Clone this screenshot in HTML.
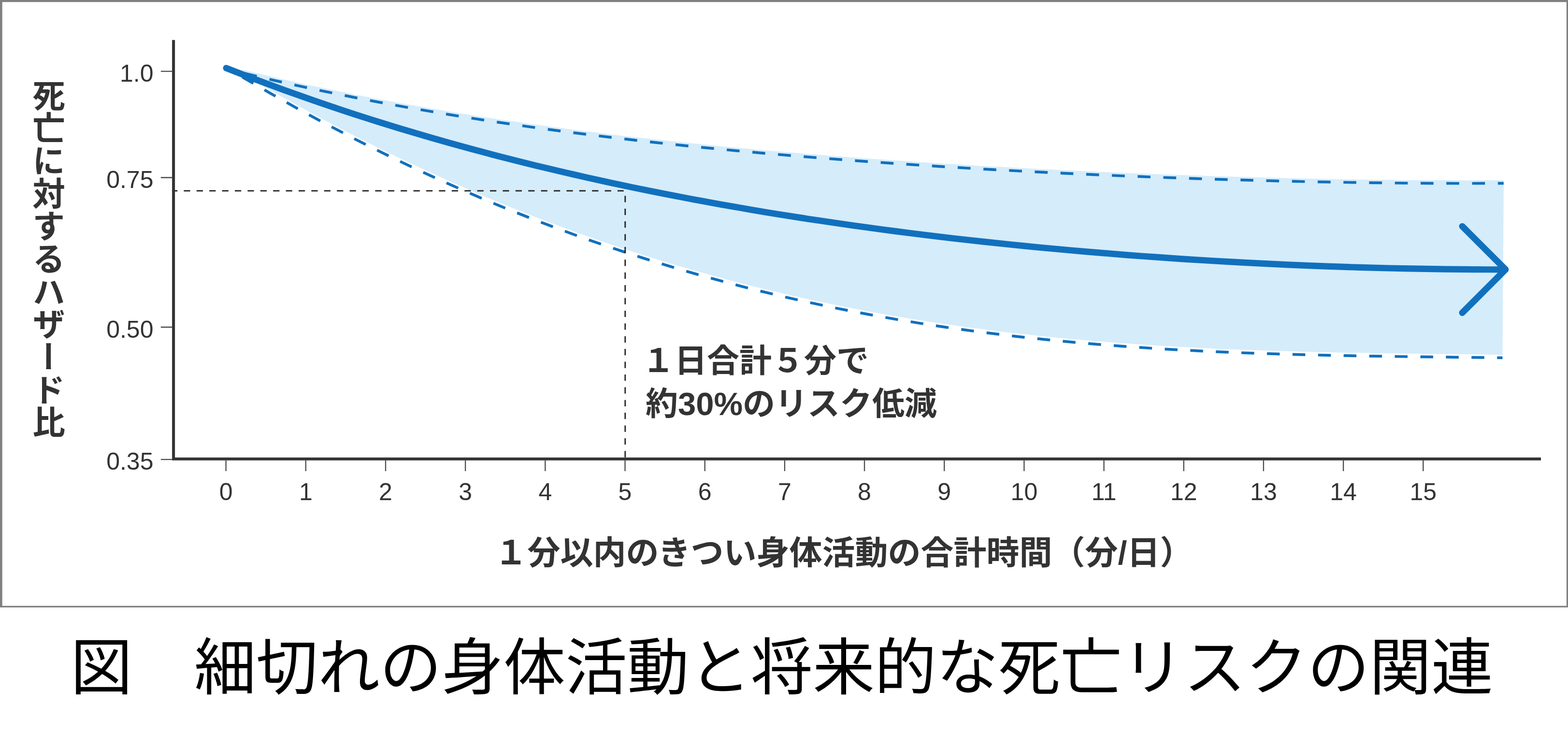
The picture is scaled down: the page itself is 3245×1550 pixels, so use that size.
<!DOCTYPE html>
<html lang="ja"><head><meta charset="utf-8"><title>図 細切れの身体活動と将来的な死亡リスクの関連</title>
<style>html,body{margin:0;padding:0;background:#fff;font-family:"Liberation Sans",sans-serif}body{width:3245px;height:1550px;overflow:hidden}svg{display:block}</style>
</head><body>
<svg width="3245" height="1550" viewBox="0 0 3245 1550">
<rect width="3245" height="1550" fill="#fff"/>
<path d="M491,143.5L505.5,145.2C515.6,147.6 545.9,154.9 566.1,159.6C586.3,164.3 606.5,168.8 626.7,173.2C646.9,177.6 667.1,181.9 687.3,186C707.5,190.2 727.7,194.2 747.9,198.2C768.2,202.1 788.4,206 808.6,209.7C828.8,213.4 849,217 869.2,220.5C889.4,224 909.6,227.5 929.8,230.8C950,234.1 970.2,237.3 990.4,240.5C1010.6,243.6 1030.8,246.7 1051,249.6C1071.2,252.6 1091.4,255.5 1111.6,258.3C1131.8,261.1 1152,263.8 1172.2,266.4C1192.4,269.1 1212.6,271.6 1232.8,274.1C1253,276.6 1273.2,279.1 1293.5,281.4C1313.7,283.8 1333.9,286.1 1354.1,288.3C1374.3,290.5 1394.5,292.7 1414.7,294.8C1434.9,296.9 1455.1,298.9 1475.3,300.9C1495.5,302.9 1515.7,304.8 1535.9,306.7C1556.1,308.6 1576.3,310.4 1596.5,312.2C1616.7,313.9 1636.9,315.7 1657.1,317.3C1677.3,319 1697.5,320.6 1717.7,322.2C1737.9,323.8 1758.1,325.3 1778.3,326.8C1798.5,328.3 1818.8,329.7 1839,331.1C1859.2,332.5 1879.4,333.9 1899.6,335.2C1919.8,336.5 1940,337.8 1960.2,339.1C1980.4,340.3 2000.6,341.5 2020.8,342.7C2041,343.9 2061.2,345 2081.4,346.1C2101.6,347.2 2121.8,348.2 2142,349.3C2162.2,350.3 2182.4,351.3 2202.6,352.3C2222.8,353.2 2243,354.2 2263.2,355.1C2283.4,356 2303.6,356.8 2323.8,357.7C2344.1,358.5 2364.3,359.3 2384.5,360.1C2404.7,360.8 2424.9,361.6 2445.1,362.3C2465.3,363 2485.5,363.6 2505.7,364.3C2525.9,364.9 2546.1,365.5 2566.3,366.1C2586.5,366.7 2606.7,367.2 2626.9,367.7C2647.1,368.3 2667.3,368.7 2687.5,369.2C2707.7,369.6 2727.9,370 2748.1,370.4C2768.3,370.8 2788.5,371.1 2808.7,371.4C2828.9,371.7 2849.1,372 2869.4,372.2C2889.6,372.5 2909.8,372.7 2930,372.8C2950.2,373 2970.4,373.1 2990.6,373.1C3010.8,373.2 3031,373.3 3051.2,373.2C3071.4,373.2 3101.9,373.1 3112,373.1L3109.5,734.1C3099.4,734 3069.1,733.6 3048.8,733.4C3028.6,733.1 3008.4,732.9 2988.2,732.6C2968,732.4 2947.8,732.2 2927.5,731.9C2907.3,731.6 2887.1,731.4 2866.9,731C2846.7,730.7 2826.5,730.4 2806.2,730.1C2786,729.7 2765.8,729.3 2745.6,728.9C2725.4,728.4 2705.1,727.9 2684.9,727.4C2664.7,726.9 2644.5,726.3 2624.3,725.6C2604.1,725 2583.8,724.2 2563.6,723.5C2543.4,722.7 2523.2,721.8 2503,720.9C2482.7,719.9 2462.5,718.9 2442.3,717.8C2422.1,716.7 2401.9,715.5 2381.7,714.2C2361.4,712.9 2341.2,711.6 2321,710.1C2300.8,708.6 2280.6,707 2260.4,705.3C2240.1,703.6 2219.9,701.8 2199.7,699.9C2179.5,698 2159.3,695.9 2139,693.8C2118.8,691.6 2098.6,689.3 2078.4,686.9C2058.2,684.5 2038,681.9 2017.7,679.2C1997.5,676.5 1977.3,673.7 1957.1,670.8C1936.9,667.8 1916.6,664.7 1896.4,661.4C1876.2,658.2 1856,654.8 1835.8,651.2C1815.6,647.7 1795.3,643.9 1775.1,640.1C1754.9,636.2 1734.7,632.2 1714.5,628C1694.3,623.8 1674,619.4 1653.8,614.9C1633.6,610.4 1613.4,605.7 1593.2,600.8C1572.9,596 1552.7,590.9 1532.5,585.7C1512.3,580.5 1492.1,575.1 1471.9,569.5C1451.6,564 1431.4,558.2 1411.2,552.3C1391,546.3 1370.8,540.2 1350.5,533.9C1330.3,527.6 1310.1,521.1 1289.9,514.4C1269.7,507.8 1249.5,500.9 1229.2,493.8C1209,486.8 1188.8,479.5 1168.6,472C1148.4,464.6 1128.2,456.9 1107.9,449.1C1087.7,441.2 1067.5,433.2 1047.3,425C1027.1,416.7 1006.8,408.3 986.6,399.6C966.4,391 946.2,382.1 926,373.1C905.8,364 885.5,354.8 865.3,345.3C845.1,335.9 824.9,326.2 804.7,316.4C784.4,306.5 764.2,296.4 744,286.2C723.8,275.9 703.6,265.4 683.4,254.7C663.1,244.1 642.9,233.2 622.7,222.1C602.5,211 582.3,199.7 562.1,188.2C541.8,176.7 511.5,158.9 501.4,153.1Z" fill="#d5ecfa"/>
<path d="M505.5,151.5C515.6,153.9 545.9,161.2 566.1,165.9C586.3,170.6 606.5,175.1 626.7,179.5C646.9,183.9 667.1,188.2 687.3,192.3C707.5,196.5 727.7,200.5 747.9,204.5C768.2,208.4 788.4,212.3 808.6,216C828.8,219.7 849,223.3 869.2,226.8C889.4,230.3 909.6,233.8 929.8,237.1C950,240.4 970.2,243.6 990.4,246.8C1010.6,249.9 1030.8,253 1051,255.9C1071.2,258.9 1091.4,261.8 1111.6,264.6C1131.8,267.4 1152,270.1 1172.2,272.7C1192.4,275.4 1212.6,277.9 1232.8,280.4C1253,282.9 1273.2,285.4 1293.5,287.7C1313.7,290.1 1333.9,292.4 1354.1,294.6C1374.3,296.8 1394.5,299 1414.7,301.1C1434.9,303.2 1455.1,305.2 1475.3,307.2C1495.5,309.2 1515.7,311.1 1535.9,313C1556.1,314.9 1576.3,316.7 1596.5,318.5C1616.7,320.2 1636.9,322 1657.1,323.6C1677.3,325.3 1697.5,326.9 1717.7,328.5C1737.9,330.1 1758.1,331.6 1778.3,333.1C1798.5,334.6 1818.8,336 1839,337.4C1859.2,338.8 1879.4,340.2 1899.6,341.5C1919.8,342.8 1940,344.1 1960.2,345.4C1980.4,346.6 2000.6,347.8 2020.8,349C2041,350.2 2061.2,351.3 2081.4,352.4C2101.6,353.5 2121.8,354.5 2142,355.6C2162.2,356.6 2182.4,357.6 2202.6,358.6C2222.8,359.5 2243,360.5 2263.2,361.4C2283.4,362.3 2303.6,363.1 2323.8,364C2344.1,364.8 2364.3,365.6 2384.5,366.4C2404.7,367.1 2424.9,367.9 2445.1,368.6C2465.3,369.3 2485.5,369.9 2505.7,370.6C2525.9,371.2 2546.1,371.8 2566.3,372.4C2586.5,373 2606.7,373.5 2626.9,374C2647.1,374.6 2667.3,375 2687.5,375.5C2707.7,375.9 2727.9,376.3 2748.1,376.7C2768.3,377.1 2788.5,377.4 2808.7,377.7C2828.9,378 2849.1,378.3 2869.4,378.5C2889.6,378.8 2909.8,379 2930,379.1C2950.2,379.3 2970.4,379.4 2990.6,379.4C3010.8,379.5 3031,379.6 3051.2,379.5C3071.4,379.5 3101.7,379.4 3111.8,379.4" fill="none" stroke="#1170bd" stroke-width="5.7" stroke-dasharray="26.63 26.63" stroke-dashoffset="0"/>
<path d="M501.4,159.4C511.5,165.2 541.8,183 562.1,194.5C582.3,206 602.5,217.3 622.7,228.4C642.9,239.5 663.1,250.4 683.4,261C703.6,271.7 723.8,282.2 744,292.5C764.2,302.7 784.4,312.8 804.7,322.7C824.9,332.5 845.1,342.2 865.3,351.6C885.5,361.1 905.8,370.3 926,379.4C946.2,388.4 966.4,397.3 986.6,405.9C1006.8,414.6 1027.1,423 1047.3,431.3C1067.5,439.5 1087.7,447.5 1107.9,455.4C1128.2,463.2 1148.4,470.9 1168.6,478.3C1188.8,485.8 1209,493.1 1229.2,500.1C1249.5,507.2 1269.7,514.1 1289.9,520.7C1310.1,527.4 1330.3,533.9 1350.5,540.2C1370.8,546.5 1391,552.6 1411.2,558.6C1431.4,564.5 1451.6,570.3 1471.9,575.8C1492.1,581.4 1512.3,586.8 1532.5,592C1552.7,597.2 1572.9,602.3 1593.2,607.1C1613.4,612 1633.6,616.7 1653.8,621.2C1674,625.7 1694.3,630.1 1714.5,634.3C1734.7,638.5 1754.9,642.5 1775.1,646.4C1795.3,650.2 1815.6,654 1835.8,657.5C1856,661.1 1876.2,664.5 1896.4,667.7C1916.6,671 1936.9,674.1 1957.1,677.1C1977.3,680 1997.5,682.8 2017.7,685.5C2038,688.2 2058.2,690.8 2078.4,693.2C2098.6,695.6 2118.8,697.9 2139,700.1C2159.3,702.2 2179.5,704.3 2199.7,706.2C2219.9,708.1 2240.1,709.9 2260.4,711.6C2280.6,713.3 2300.8,714.9 2321,716.4C2341.2,717.9 2361.4,719.2 2381.7,720.5C2401.9,721.8 2422.1,723 2442.3,724.1C2462.5,725.2 2482.7,726.2 2503,727.2C2523.2,728.1 2543.4,729 2563.6,729.8C2583.8,730.5 2604.1,731.3 2624.3,731.9C2644.5,732.6 2664.7,733.2 2684.9,733.7C2705.1,734.2 2725.4,734.7 2745.6,735.2C2765.8,735.6 2786,736 2806.2,736.4C2826.5,736.7 2846.7,737 2866.9,737.3C2887.1,737.7 2907.3,737.9 2927.5,738.2C2947.8,738.5 2968,738.7 2988.2,738.9C3008.4,739.2 3028.6,739.4 3048.8,739.7C3069.1,739.9 3099.4,740.3 3109.5,740.4" fill="none" stroke="#1170bd" stroke-width="5.7" stroke-dasharray="26.46 26.46" stroke-dashoffset="0"/>
<path d="M356,394.8H1290.7" fill="none" stroke="#222" stroke-width="2.8" stroke-dasharray="13.2 13.2" stroke-dashoffset="2"/>
<path d="M1293.8,405.3V949.7" fill="none" stroke="#222" stroke-width="2.8" stroke-dasharray="13.2 13.2"/>
<path d="M468.1,140.9C478.1,144.7 508.2,156.6 528.3,164.2C548.3,171.8 568.4,179.2 588.4,186.5C608.5,193.7 628.6,200.8 648.6,207.8C668.7,214.8 688.7,221.6 708.8,228.2C728.8,234.9 748.9,241.4 769,247.7C789,254.1 809.1,260.3 829.1,266.4C849.2,272.4 869.3,278.4 889.3,284.2C909.4,290 929.4,295.7 949.5,301.2C969.5,306.7 989.6,312.2 1009.7,317.4C1029.7,322.7 1049.8,327.9 1069.8,332.9C1089.9,338 1109.9,342.9 1130,347.7C1150.1,352.6 1170.1,357.2 1190.2,361.8C1210.2,366.4 1230.3,370.9 1250.3,375.3C1270.4,379.7 1290.5,383.9 1310.5,388.1C1330.6,392.3 1350.6,396.3 1370.7,400.3C1390.7,404.3 1410.8,408.1 1430.9,411.9C1450.9,415.7 1471,419.4 1491,422.9C1511.1,426.5 1531.2,430 1551.2,433.4C1571.3,436.9 1591.3,440.2 1611.4,443.4C1631.4,446.6 1651.5,449.8 1671.6,452.9C1691.6,455.9 1711.7,458.9 1731.7,461.8C1751.8,464.8 1771.8,467.6 1791.9,470.3C1812,473.1 1832,475.8 1852.1,478.4C1872.1,481 1892.2,483.5 1912.2,486C1932.3,488.4 1952.4,490.8 1972.4,493.2C1992.5,495.5 2012.5,497.7 2032.6,499.9C2052.6,502.1 2072.7,504.2 2092.8,506.3C2112.8,508.3 2132.9,510.3 2152.9,512.2C2173,514.1 2193.1,516 2213.1,517.8C2233.2,519.6 2253.2,521.3 2273.3,522.9C2293.3,524.6 2313.4,526.2 2333.5,527.8C2353.5,529.3 2373.6,530.8 2393.6,532.2C2413.7,533.6 2433.7,535 2453.8,536.3C2473.9,537.6 2493.9,538.8 2514,540C2534,541.2 2554.1,542.3 2574.1,543.4C2594.2,544.5 2614.3,545.5 2634.3,546.4C2654.4,547.4 2674.4,548.2 2694.5,549.1C2714.5,549.9 2734.6,550.7 2754.7,551.4C2774.7,552.1 2794.8,552.8 2814.8,553.4C2834.9,554 2855,554.5 2875,555C2895.1,555.5 2915.1,555.9 2935.2,556.2C2955.2,556.6 2975.3,556.9 2995.4,557.1C3015.4,557.4 3035.5,557.5 3055.5,557.6C3075.6,557.8 3105.7,557.8 3115.7,557.8" fill="none" stroke="#1170bd" stroke-width="13.2" stroke-linecap="round" stroke-linejoin="round"/>
<path d="M3026.2,468.3L3115.7,557.8L3026.2,647.3" fill="none" stroke="#1170bd" stroke-width="13.3" stroke-linecap="round" stroke-linejoin="round"/>
<path d="M359.1,82.7V952.7M356.1,949.7H3189" stroke="#333333" stroke-width="6" fill="none"/>
<path d="M332.8,147.7H356.1M332.8,367.5H356.1M332.8,677H356.1M332.8,950.8H356.1M467.6,952.7V975M632.8,952.7V975M798,952.7V975M963.1,952.7V975M1128.3,952.7V975M1293.5,952.7V975M1458.7,952.7V975M1623.9,952.7V975M1789,952.7V975M1954.2,952.7V975M2119.4,952.7V975M2284.6,952.7V975M2449.8,952.7V975M2614.9,952.7V975M2780.1,952.7V975M2945.3,952.7V975" stroke="#4a4a4a" stroke-width="2.3" fill="none"/>
<path d="M0,0H3245V1257H0ZM4.7,4.3V1253.7H3241.9V4.3Z" fill="#808080" fill-rule="evenodd"/>
<g fill="#333333" stroke="none" font-family="&quot;Liberation Sans&quot;, &quot;Noto Sans CJK JP&quot;, sans-serif"><text x="317.5" y="169.3" font-size="50" text-anchor="end">1.0</text><text x="317.5" y="389.1" font-size="50" text-anchor="end">0.75</text><text x="317.5" y="698.6" font-size="50" text-anchor="end">0.50</text><text x="317.5" y="972.4" font-size="50" text-anchor="end">0.35</text><text x="467.6" y="1035.3" font-size="50" text-anchor="middle">0</text><text x="632.8" y="1035.3" font-size="50" text-anchor="middle">1</text><text x="798" y="1035.3" font-size="50" text-anchor="middle">2</text><text x="963.1" y="1035.3" font-size="50" text-anchor="middle">3</text><text x="1128.3" y="1035.3" font-size="50" text-anchor="middle">4</text><text x="1293.5" y="1035.3" font-size="50" text-anchor="middle">5</text><text x="1458.7" y="1035.3" font-size="50" text-anchor="middle">6</text><text x="1623.9" y="1035.3" font-size="50" text-anchor="middle">7</text><text x="1789" y="1035.3" font-size="50" text-anchor="middle">8</text><text x="1954.2" y="1035.3" font-size="50" text-anchor="middle">9</text><text x="2119.4" y="1035.3" font-size="50" text-anchor="middle">10</text><text x="2284.6" y="1035.3" font-size="50" text-anchor="middle">11</text><text x="2449.8" y="1035.3" font-size="50" text-anchor="middle">12</text><text x="2614.9" y="1035.3" font-size="50" text-anchor="middle">13</text><text x="2780.1" y="1035.3" font-size="50" text-anchor="middle">14</text><text x="2945.3" y="1035.3" font-size="50" text-anchor="middle">15</text><text x="94.5" y="163" font-size="67.7" font-weight="bold" style="writing-mode:vertical-rl" writing-mode="vertical-rl">死亡に対するハザード比</text><text x="1746" y="1168.3" font-size="68" font-weight="bold" text-anchor="middle">１分以内のきつい身体活動の合計時間（分/日）</text><text x="1329" y="769.5" font-size="67" font-weight="bold">１日合計５分で</text><text x="1336" y="859" font-size="67" font-weight="bold">約30%のリスク低減</text><text x="146" y="1426.5" font-size="128" fill="#000">図　細切れの身体活動と将来的な死亡リスクの関連</text></g>
</svg>
</body></html>
